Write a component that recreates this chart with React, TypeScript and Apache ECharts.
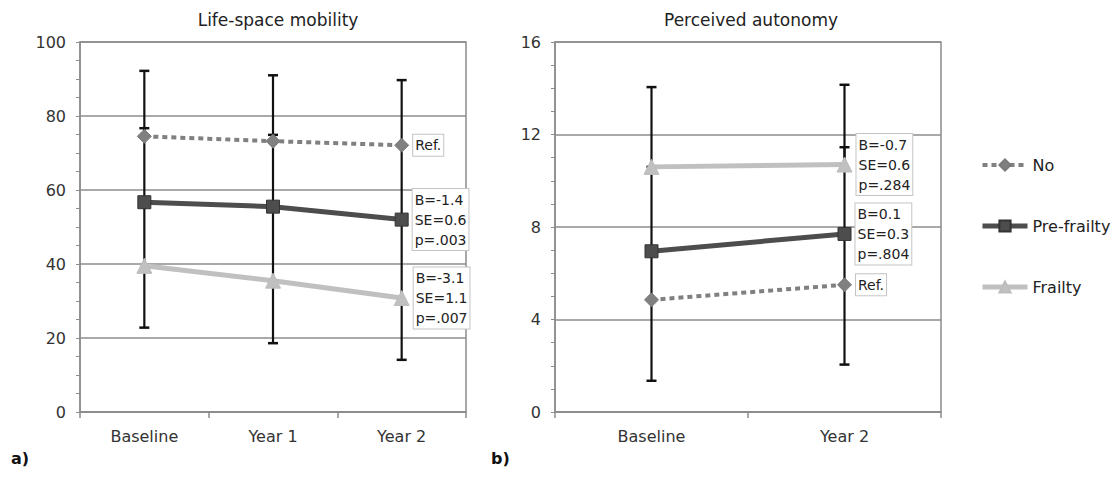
import React, { useEffect, useRef } from "react";
import * as echarts from "echarts";

const categoriesA = ["Baseline", "Year 1", "Year 2"];
const categoriesB = ["Baseline", "Year 2"];

// a) Life-space mobility
const lifeNo = [74.5, 73.2, 72.1];
const lifePre = [56.7, 55.5, 52.0];
const lifeFrail = [39.5, 35.5, 30.8];
const lifeNoUpper = [92.2, 91.0, 89.7];
const lifePreUpper = [76.7, 74.9, 72.1];
const lifeFrailLower = [22.8, 18.6, 14.1];
const lifeFrailUpper = [56.7, 55.5, 52.0];
const lifeNotes = ["Ref.", "B=-1.4\nSE=0.6\np=.003", "B=-3.1\nSE=1.1\np=.007"];

// b) Perceived autonomy
const autoNo = [4.85, 5.5];
const autoPre = [6.95, 7.7];
const autoFrail = [10.6, 10.7];
const autoNoLower = [1.35, 2.05];
const autoNoUpper = [6.95, 7.7];
const autoPreUpper = [10.6, 11.45];
const autoFrailUpper = [14.05, 14.15];
const autoNotes = ["Ref.", "B=0.1\nSE=0.3\np=.804", "B=-0.7\nSE=0.6\np=.284"];

const seriesNames = ["No", "Pre-frailty", "Frailty"];
const titles = ["Life-space mobility", "Perceived autonomy"];
const panelLetters = ["a)", "b)"];

const FONT = "'DejaVu Sans', sans-serif";

const styles = [
  { color: "#808080", width: 4, type: [5, 4] as any, symbol: "diamond", size: 14, border: "#7a7a7a" },
  { color: "#4d4d4d", width: 5, type: "solid", symbol: "rect", size: 13, border: "#333333" },
  { color: "#c0c0c0", width: 5, type: "solid", symbol: "triangle", size: 15, border: "#bdbdbd" },
];

function errSeries(means: number[], ends: number[], gi: number) {
  return {
    type: "custom",
    name: "err",
    xAxisIndex: gi,
    yAxisIndex: gi,
    z: 1,
    silent: true,
    encode: { x: 0, y: [1, 2] },
    data: means.map((m, i) => [i, m, ends[i]]),
    renderItem: (params: any, api: any) => {
      const x = api.value(0);
      const p0 = api.coord([x, api.value(1)]);
      const p1 = api.coord([x, api.value(2)]);
      return {
        type: "group",
        children: [
          {
            type: "line",
            shape: { x1: p0[0], y1: p0[1], x2: p1[0], y2: p1[1] },
            style: { stroke: "#111111", lineWidth: 2.2 },
          },
          {
            type: "line",
            shape: { x1: p1[0] - 5, y1: p1[1], x2: p1[0] + 5, y2: p1[1] },
            style: { stroke: "#111111", lineWidth: 2.5 },
          },
        ],
      };
    },
  };
}

function lineSeries(values: number[], k: number, gi: number, note: string) {
  const st = styles[k];
  const last = values.length - 1;
  return {
    type: "line",
    name: seriesNames[k],
    xAxisIndex: gi,
    yAxisIndex: gi,
    z: 3,
    symbol: st.symbol,
    symbolSize: st.size,
    color: st.color,
    lineStyle: { color: st.color, width: st.width, type: st.type, cap: "butt" },
    itemStyle: { color: st.color, borderColor: st.border, borderWidth: 1 },
    data: values.map((v, i) =>
      i === last
        ? {
            value: v,
            label: {
              show: true,
              position: "right",
              distance: 4,
              formatter: note,
              color: "#222",
              fontFamily: FONT,
              fontSize: 14,
              lineHeight: 20,
              align: "left",
              backgroundColor: "#ffffff",
              borderColor: "#c4c4c4",
              borderWidth: 1,
              padding: [1, 2, 0, 2],
            },
          }
        : v
    ),
  };
}

const gridColor = "#8c8c8c";

function xAxis(cats: string[], gi: number) {
  return {
    type: "category",
    gridIndex: gi,
    data: cats,
    boundaryGap: true,
    axisLine: { lineStyle: { color: gridColor, width: 1.5 } },
    axisTick: { show: true, length: 6, lineStyle: { color: gridColor, width: 1.5 } },
    axisLabel: { color: "#333", fontSize: 16, fontFamily: FONT, margin: 16 },
  };
}

function yAxis(max: number, interval: number, minorSplit: number, gi: number) {
  return {
    type: "value",
    gridIndex: gi,
    min: 0,
    max,
    interval,
    axisLine: { show: true, lineStyle: { color: gridColor, width: 1.5 } },
    axisTick: { show: true, length: 4, lineStyle: { color: gridColor } },
    minorTick: { show: true, splitNumber: minorSplit, length: 4, lineStyle: { color: gridColor } },
    splitLine: { show: true, lineStyle: { color: gridColor, width: 1.5 } },
    axisLabel: { color: "#333", fontSize: 16, fontFamily: FONT, margin: 14 },
  };
}

export default function App() {
  const ref = useRef<HTMLDivElement>(null);
  useEffect(() => {
    if (!ref.current) return;
    const chart = echarts.init(ref.current, undefined, { renderer: "svg" });
    chart.setOption({
      animation: false,
      backgroundColor: "#ffffff",
      textStyle: { fontFamily: FONT },
      title: [
        {
          text: titles[0],
          left: 273,
          top: 6,
          textAlign: "center",
          textStyle: { fontSize: 17, fontWeight: "normal", color: "#222", fontFamily: FONT },
        },
        {
          text: titles[1],
          left: 746,
          top: 6,
          textAlign: "center",
          textStyle: { fontSize: 17, fontWeight: "normal", color: "#222", fontFamily: FONT },
        },
      ],
      grid: [
        { left: 80, top: 42, width: 386, height: 370, show: true, borderColor: gridColor, borderWidth: 1.5 },
        { left: 555, top: 42, width: 386, height: 370, show: true, borderColor: gridColor, borderWidth: 1.5 },
      ],
      xAxis: [xAxis(categoriesA, 0), xAxis(categoriesB, 1)],
      yAxis: [yAxis(100, 20, 4, 0), yAxis(16, 4, 4, 1)],
      legend: {
        orient: "vertical",
        left: 975,
        top: 152,
        itemWidth: 45,
        itemHeight: 14,
        itemGap: 45,
        data: seriesNames.map((n, i) => ({
          name: n,
          lineStyle: { width: styles[i].width, type: styles[i].type, color: styles[i].color },
        })),
        textStyle: { fontSize: 16, color: "#222", fontFamily: FONT },
      },
      graphic: [
        { type: "text", left: 11, top: 450, style: { text: panelLetters[0], fontSize: 16, fontWeight: "bold", fill: "#111", fontFamily: FONT } },
        { type: "text", left: 491, top: 450, style: { text: panelLetters[1], fontSize: 16, fontWeight: "bold", fill: "#111", fontFamily: FONT } },
      ],
      series: [
        errSeries(lifeNo, lifeNoUpper, 0),
        errSeries(lifePre, lifePreUpper, 0),
        errSeries(lifeFrail, lifeFrailLower, 0),
        errSeries(lifeFrail, lifeFrailUpper, 0),
        errSeries(autoNo, autoNoLower, 1),
        errSeries(autoNo, autoNoUpper, 1),
        errSeries(autoPre, autoPreUpper, 1),
        errSeries(autoFrail, autoFrailUpper, 1),
        lineSeries(lifeNo, 0, 0, lifeNotes[0]),
        lineSeries(lifePre, 1, 0, lifeNotes[1]),
        lineSeries(lifeFrail, 2, 0, lifeNotes[2]),
        lineSeries(autoNo, 0, 1, autoNotes[0]),
        lineSeries(autoPre, 1, 1, autoNotes[1]),
        lineSeries(autoFrail, 2, 1, autoNotes[2]),
      ],
    });
    return () => chart.dispose();
  }, []);
  return (
    <div
      ref={ref}
      style={{ position: "fixed", left: 0, top: 0, width: 1111, height: 477 }}
    />
  );
}
